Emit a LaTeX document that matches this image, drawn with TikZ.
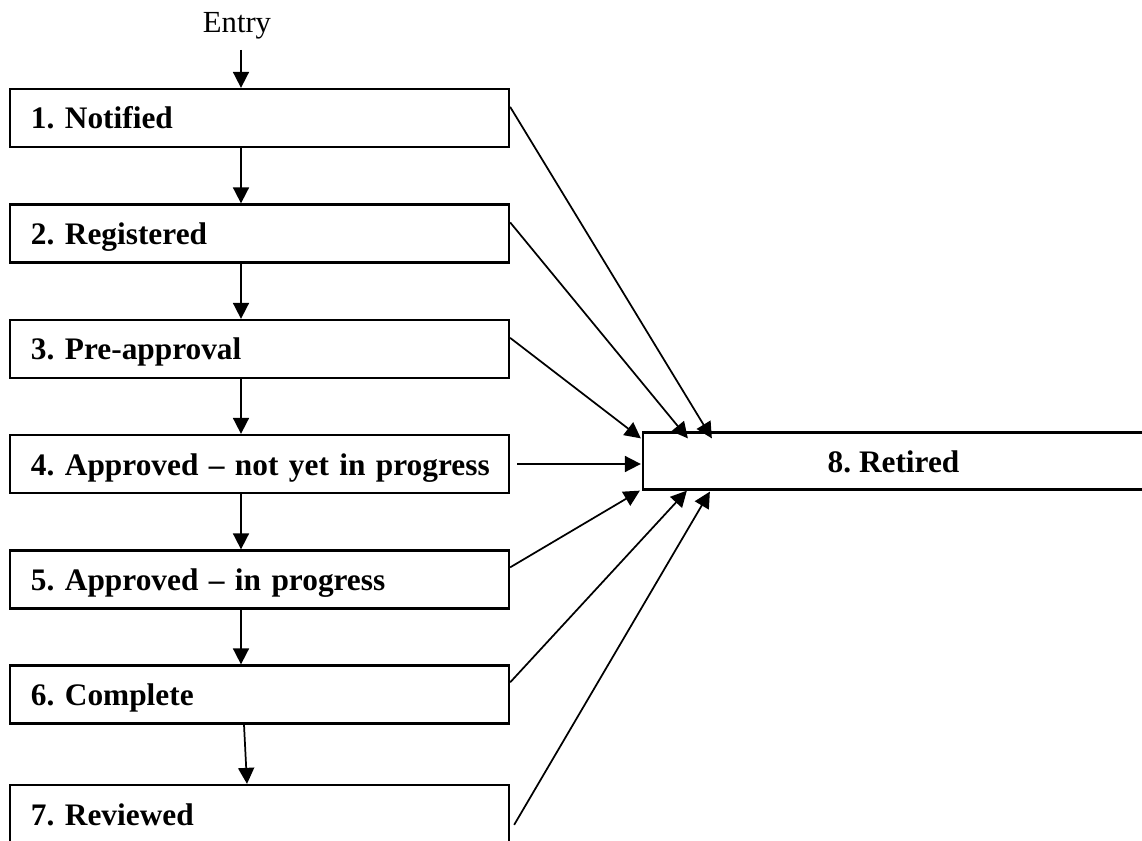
\documentclass[tikz,border=0pt]{standalone}
\usepackage{fontspec}
\setmainfont{Liberation Serif}
\usetikzlibrary{arrows.meta,calc}
\frenchspacing
\begin{document}
\begin{tikzpicture}[x=0.75pt,y=-0.75pt,
  stbox/.style={draw,line width=1.7pt,rectangle,minimum width=374.25pt,minimum height=43.5pt,
    text width=342.75pt,inner xsep=15.75pt,inner ysep=0pt,align=left,
    text height=16.5pt,text depth=0pt,
    font=\fontsize{23.5}{28}\selectfont\bfseries},
  retbox/.style={draw,line width=1.7pt,rectangle,minimum width=375.75pt,minimum height=42.75pt,
    inner sep=0pt,text height=16.5pt,text depth=0pt,font=\fontsize{23.5}{28}\selectfont\bfseries},
  arr/.style={-{Triangle[length=12pt,width=12pt]},line width=1.3pt}]
\useasboundingbox (0,0) rectangle (1142,841);
\node[font=\fontsize{23}{27}\selectfont,anchor=base,inner sep=0pt] (entry) at (237,33) {Entry};
\node[stbox] (b1) at (259.5,118) {1. Notified};
\node[stbox] (b2) at (259.5,233.5) {2. Registered};
\node[stbox] (b3) at (259.5,349) {3. Pre-approval};
\node[stbox] (b4) at (259.5,464) {\mbox{4. Approved – not yet in progress}};
\node[stbox] (b5) at (259.5,579.5) {5. Approved – in progress};
\node[stbox] (b6) at (259.5,694.5) {6. Complete};
\node[stbox] (b7) at (259.5,814) {7. Reviewed};
\node[retbox] (r) at (893.5,461) {8. Retired};
% vertical chain
\draw[arr] ($(entry.base)+(4,17)$) -- ($(b1.north)+(-18.5,0)$);
\draw[arr] ($(b1.south)+(-18.5,0)$) -- ($(b2.north)+(-18.5,0)$);
\draw[arr] ($(b2.south)+(-18.5,0)$) -- ($(b3.north)+(-18.5,0)$);
\draw[arr] ($(b3.south)+(-18.5,0)$) -- ($(b4.north)+(-18.5,0)$);
\draw[arr] ($(b4.south)+(-18.5,0)$) -- ($(b5.north)+(-18.5,0)$);
\draw[arr] ($(b5.south)+(-18.5,0)$) -- ($(b6.north)+(-18.5,0)$);
\draw[arr] ($(b6.south)+(-15.5,0)$) -- ($(b7.north)+(-12.5,0)$);
% to retired
\draw[arr] ($(b1.north east)+(0,19)$) -- ($(r.north west)+(70,7)$);
\draw[arr] ($(b2.north east)+(0,19)$) -- ($(r.north west)+(46,7)$);
\draw[arr] ($(b3.north east)+(0,19)$) -- ($(r.north west)+(-1,7)$);
\draw[arr] ($(b4.east)+(7,0)$) -- ($(r.west)+(-1,3)$);
\draw[arr] ($(b5.north east)+(0,18)$) -- ($(r.south west)+(-2,0)$);
\draw[arr] ($(b6.north east)+(0,18)$) -- ($(r.south west)+(45,0)$);
\draw[arr] ($(b7.north east)+(4,41)$) -- ($(r.south west)+(68,1)$);
\end{tikzpicture}
\end{document}
